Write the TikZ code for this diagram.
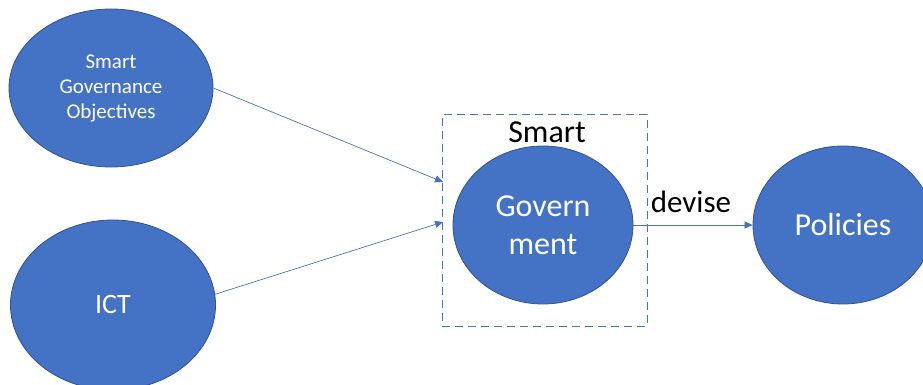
\documentclass[tikz,border=0pt]{standalone}
\usepackage{fontspec}
\setmainfont{Carlito}
\usetikzlibrary{shapes.geometric,arrows.meta}
\definecolor{obl}{HTML}{4472C4}
\definecolor{obd}{HTML}{2F528F}
\begin{document}
\begin{tikzpicture}[x=1pt,y=-1pt,
  blob/.style={ellipse,draw=obd,line width=0.8pt,fill=obl,text=white,inner sep=0pt,align=center},
  conn/.style={draw=obl,line width=0.7pt,-{Triangle[length=8pt,width=7pt]}},
  dashbox/.style={draw=obl,line width=1pt,dash pattern=on 8pt off 5pt}]
\useasboundingbox (0,0) rectangle (923,385);
\node[blob,minimum width=204pt,minimum height=158pt,font=\fontsize{21}{25}\selectfont] (sgo) at (111,88) {Smart\\Governance\\Objectives};
\node[blob,minimum width=205pt,minimum height=170pt,font=\fontsize{28}{32}\selectfont] (ict) at (113,305) {ICT};
\node[blob,minimum width=180pt,minimum height=158pt,font=\fontsize{32}{38}\selectfont] (gov) at (543,225) {Govern\\ment};
\node[blob,minimum width=180pt,minimum height=158pt,font=\fontsize{32}{36}\selectfont] (pol) at (843,225) {Policies};
\node[dashbox,minimum width=205pt,minimum height=211pt,inner sep=0pt] (box) at (544.5,220.5) {};
\node[font=\fontsize{32}{36}\selectfont] (smart) at (547,132) {Smart};
\coordinate (in1) at (443,182);
\coordinate (in2) at (443,222);
\draw[conn] (sgo.east) -- (in1);
\draw[conn] (ict.6) -- (in2);
\draw[conn] (gov.east) -- (pol.west);
\node[font=\fontsize{31}{35}\selectfont] (dev) at (691,202) {devise};
\end{tikzpicture}
\end{document}
